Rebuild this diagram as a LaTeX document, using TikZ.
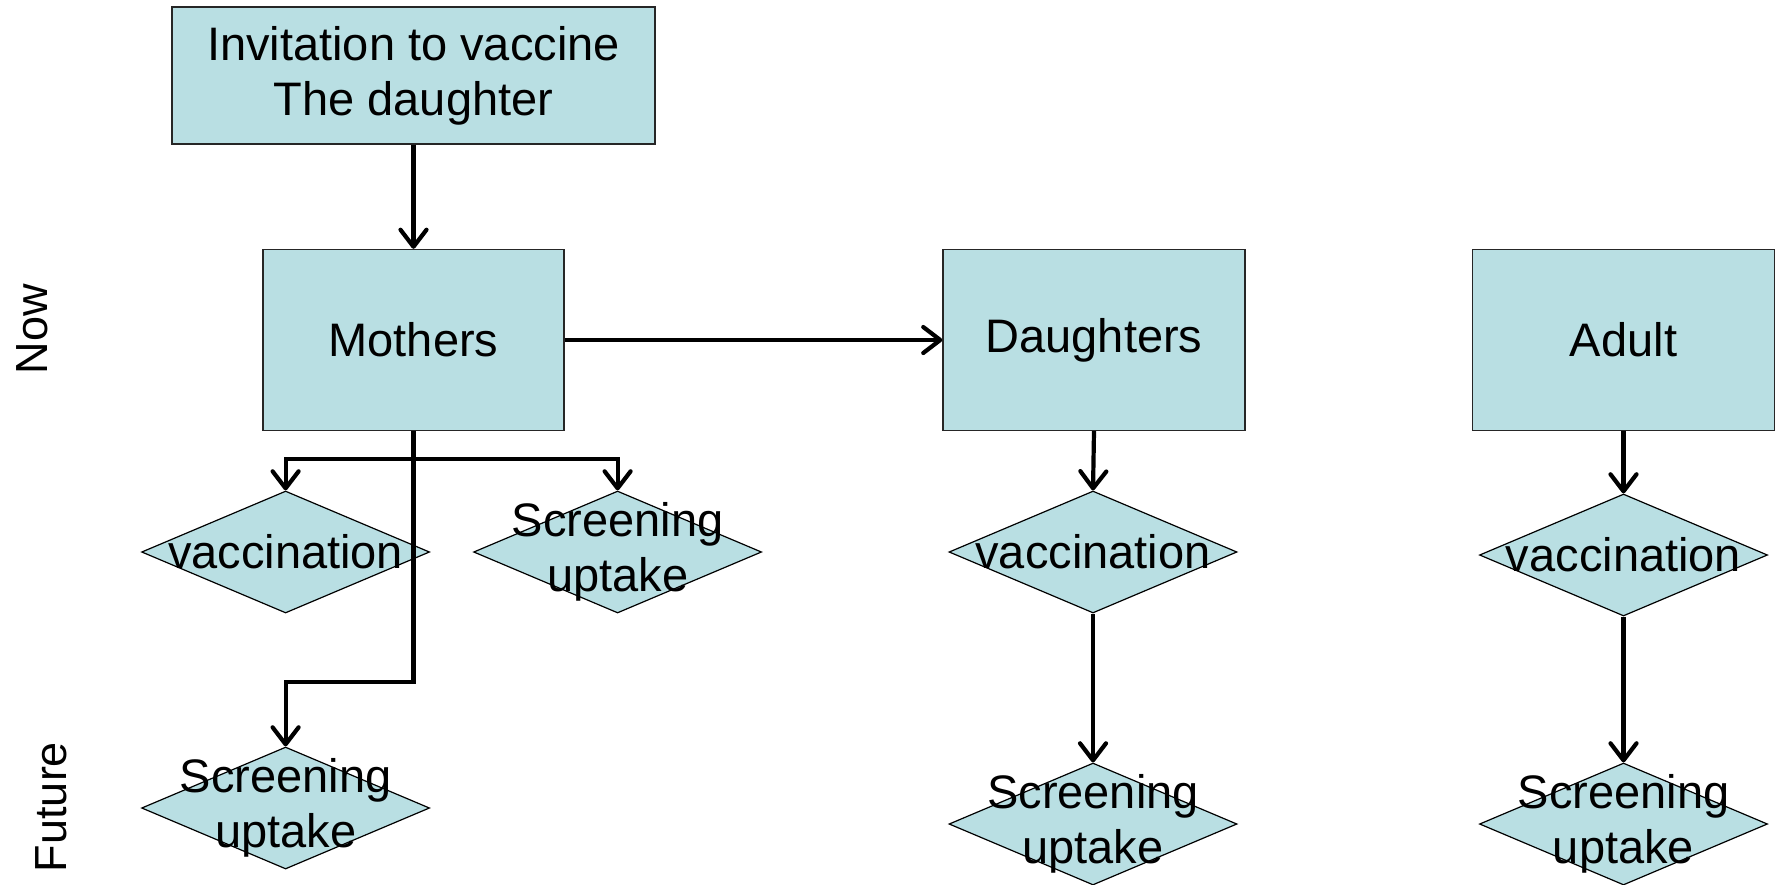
\documentclass[tikz,border=0pt]{standalone}
\usepackage{fontspec}
\setmainfont{Liberation Sans}
\usetikzlibrary{shapes.geometric,arrows.meta}
\definecolor{boxfill}{RGB}{185,223,227}
\begin{document}
\begin{tikzpicture}[x=1pt,y=-1pt,
  txt/.style={font=\fontsize{47}{55}\selectfont},
  box/.style={draw=black!85,line width=1.3pt,fill=boxfill,inner sep=0pt,align=center,txt},
  diam/.style={diamond,draw=black,line width=1.2pt,fill=boxfill,minimum width=288pt,minimum height=122pt,inner sep=0pt},
  dlab/.style={label={[txt,align=center]center:#1}},
  conn/.style={line width=4.2pt,line join=miter,-{Straight Barb[length=17pt,width=26pt,line width=4.2pt,round]}},
  side/.style={font=\fontsize{45}{50}\selectfont,rotate=90}]
\useasboundingbox (0,0) rectangle (1777,884);
% boxes
\node[box,minimum width=483pt,minimum height=137pt] (inv) at (413.5,75.5) {Invitation to vaccine\\The daughter};
\node[box,minimum width=301pt,minimum height=181pt] (mothers) at (413.5,340) {Mothers};
\node[box,minimum width=302pt,minimum height=181pt] (daughters) at (1094,340) {Daughters};
\node[box,minimum width=302pt,minimum height=181pt] (adult) at (1623.5,340) {Adult};
% diamonds
\node[diam,dlab={vaccination}] (mv) at (285.6,552) {};
\node[diam,dlab={Screening\\uptake}] (ms) at (617.6,552) {};
\node[diam,dlab={Screening\\uptake}] (mf) at (285.6,808) {};
\node[diam,dlab={vaccination}] (dv) at (1093,552) {};
\node[diam,dlab={Screening\\uptake}] (ds) at (1093,824) {};
\node[diam,dlab={vaccination}] (av) at (1623.5,555) {};
\node[diam,dlab={Screening\\uptake}] (as) at (1623.5,824) {};
% side labels
\node[side] (now) at (32,329) {Now};
\node[side] (future) at (51,807) {Future};
% branch points
\coordinate (br) at (413.5,459);
\coordinate (fb) at (413.5,682);
% connectors
\draw[conn] (inv.south) -- (mothers.north);
\draw[conn] (mothers.east) -- (daughters.west);
\draw[conn] (mothers.south) -- (br) -| (mv.north);
\draw[conn] (br) -| (ms.north);
\draw[conn] (mothers.south) -- (fb) -| (mf.north);
\draw[conn] (daughters.south) -- (dv.north);
\draw[conn] (dv.south) -- (ds.north);
\draw[conn] (adult.south) -- (av.north);
\draw[conn] (av.south) -- (as.north);
\end{tikzpicture}
\end{document}
